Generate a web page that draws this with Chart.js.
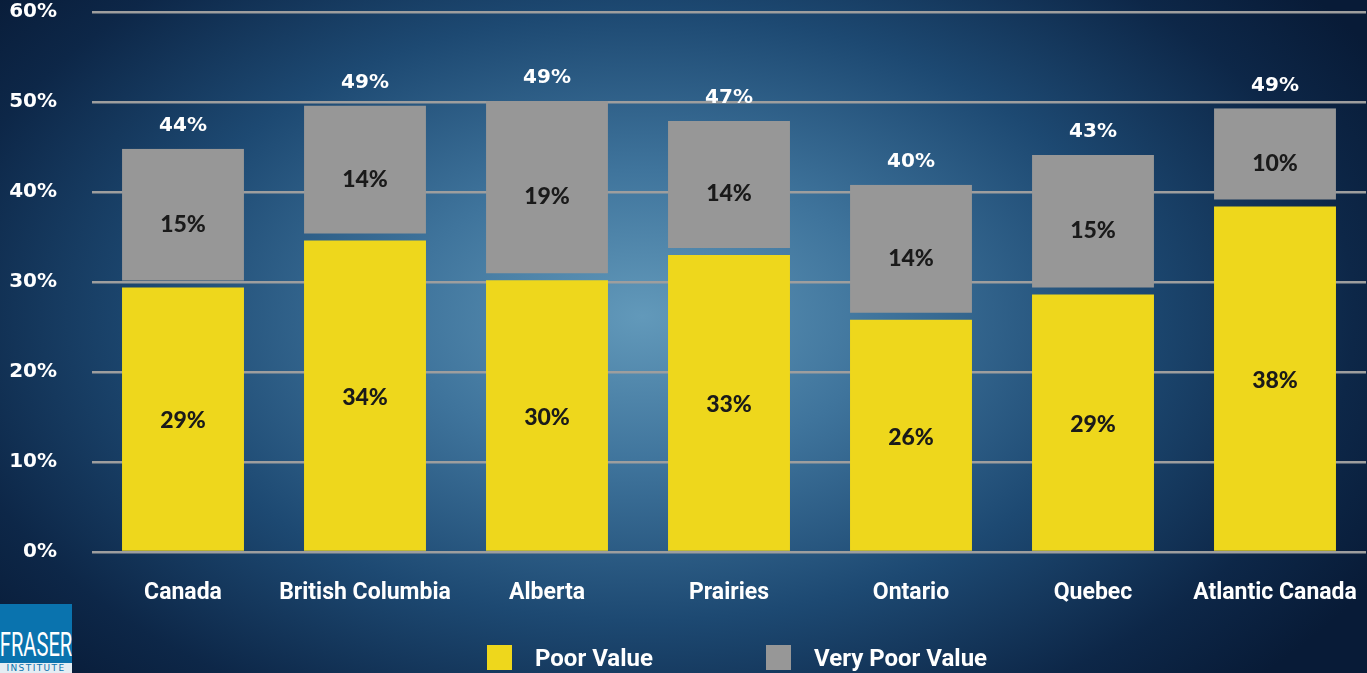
<!DOCTYPE html>
<html>
<head>
<meta charset="utf-8">
<script src="https://cdn.jsdelivr.net/npm/chart.js@4.4.1/dist/chart.umd.min.js"></script>
<style>
  html, body { margin: 0; padding: 0; }
  body {
    width: 1367px; height: 673px; overflow: hidden; position: relative;
    background: radial-gradient(ellipse 62% 78% at 47% 47%, #6299ba 0%, #3f749c 28%, #1d4972 58%, #0d2748 84%, #081b37 100%);
  }
  #wrap { position: absolute; left: 0; top: 0; width: 1367px; height: 673px; }
  .legend { position: absolute; top: 645px; display: flex; align-items: center; color: #fff;
    font: bold 24px Roboto, sans-serif; height: 25px; }
  .legend span.box { display: inline-block; width: 25px; height: 25px; margin-right: 23px; }
  .logo { position: absolute; left: 0; top: 604px; width: 72px; height: 69px; background: #0a73ae; overflow: hidden; }
  .logo .name { position: absolute; left: -64px; top: 24px; width: 200px; text-align: center; color: #fff;
    font: 33px Roboto, sans-serif; transform: scaleX(0.61); transform-origin: 100px 0; line-height: 34px; }
  .logo .sub { position: absolute; left: 0; bottom: 0; width: 72px; height: 10px; background: #e4edf3;
    color: #0a73ae; font: 9px "DejaVu Sans", sans-serif; letter-spacing: 1.4px; text-align: center; line-height: 11px; }
</style>
</head>
<body>
<div id="wrap"><canvas id="chart"></canvas></div>
<div class="legend" style="left:487px"><span class="box" style="background:#eed71c"></span>Poor Value</div>
<div class="legend" style="left:766px"><span class="box" style="background:#979797"></span>Very Poor Value</div>
<div class="logo"><div class="name">FRASER</div><div class="sub">INSTITUTE</div></div>
<script>
// 数据
const categories = ['Canada', 'British Columbia', 'Alberta', 'Prairies', 'Ontario', 'Quebec', 'Atlantic Canada'];
const poorValue = [29.4, 34.6, 30.2, 33.0, 25.8, 28.6, 38.4];
const veryPoorValue = [15.4, 15.0, 19.9, 14.9, 15.0, 15.5, 10.9];
const poorLabels = ['29%', '34%', '30%', '33%', '26%', '29%', '38%'];
const veryPoorLabels = ['15%', '14%', '19%', '14%', '14%', '15%', '10%'];
const totalLabels = ['44%', '49%', '49%', '47%', '40%', '43%', '49%'];
const yMax = 60;
const yStep = 10;

// 柱内和柱顶的文字
const barLabels = {
    id: 'barLabels',
    afterDatasetsDraw(chart) {
        const ctx = chart.ctx;
        const poorMeta = chart.getDatasetMeta(0);
        const veryMeta = chart.getDatasetMeta(1);
        ctx.save();
        ctx.textAlign = 'center';
        ctx.textBaseline = 'middle';
        ctx.font = '900 23px Lato, sans-serif';
        ctx.fillStyle = '#1a1a1a';
        poorMeta.data.forEach((bar, i) => {
            const c = bar.getCenterPoint();
            ctx.fillText(poorLabels[i], c.x, c.y + 2);
        });
        veryMeta.data.forEach((bar, i) => {
            const c = bar.getCenterPoint();
            ctx.fillText(veryPoorLabels[i], c.x, c.y + 6);
        });
        ctx.font = 'bold 20px "DejaVu Sans", sans-serif';
        ctx.fillStyle = '#ffffff';
        veryMeta.data.forEach((bar, i) => {
            ctx.fillText(totalLabels[i], bar.x, bar.y - 23);
        });
        ctx.restore();
    }
};

const chart = new Chart(document.getElementById('chart'), {
    type: 'bar',
    data: {
        labels: categories,
        datasets: [{
            label: 'Poor Value',
            data: poorValue,
            backgroundColor: '#eed71c',
            barPercentage: 0.67,
            categoryPercentage: 1
        }, {
            label: 'Very Poor Value',
            data: veryPoorValue,
            backgroundColor: '#979797',
            borderColor: 'rgba(0,0,0,0)',
            borderWidth: { top: 0, left: 0, right: 0, bottom: 7 },
            borderSkipped: false,
            barPercentage: 0.67,
            categoryPercentage: 1
        }]
    },
    options: {
        responsive: true,
        maintainAspectRatio: false,
        animation: false,
        layout: { padding: { left: 10, right: 1, top: 2, bottom: 0 } },
        plugins: {
            legend: { display: false },
            tooltip: { enabled: false }
        },
        scales: {
            x: {
                stacked: true,
                grid: { display: false },
                border: { display: false },
                ticks: {
                    color: '#ffffff',
                    font: { family: 'Roboto', weight: 'bold', size: 23 },
                    padding: 19,
                    maxRotation: 0
                },
                afterFit: scale => {
                    scale.height = 121;
                    scale.paddingLeft = 0;
                    scale.paddingRight = 0;
                }
            },
            y: {
                stacked: true,
                min: 0,
                max: yMax,
                grid: { color: '#9e9e9e', lineWidth: 2.5, drawTicks: false },
                border: { display: false },
                ticks: {
                    stepSize: yStep,
                    color: '#ffffff',
                    font: { family: 'DejaVu Sans', weight: 'bold', size: 20 },
                    padding: 35,
                    callback: v => v + '%'
                },
                afterFit: scale => {
                    scale.width = 82;
                    scale.paddingTop = 12;
                    scale.paddingBottom = 0;
                }
            }
        }
    },
    plugins: [barLabels]
});
</script>
</body>
</html>
